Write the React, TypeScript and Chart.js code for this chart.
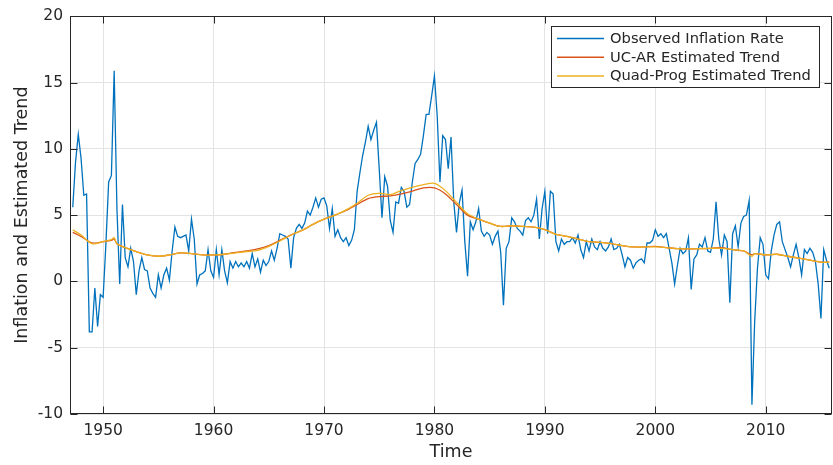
import React, { useEffect, useRef } from "react";
import { Chart, registerables } from "chart.js";

Chart.register(...registerables);

// Quarterly observed inflation, first quarter shown is 1947.25
const FIRST_QUARTER = 1947.25;
const QUARTER = 0.25;

const infl1947to1949 = [5.6, 9.0, 11.1, 9.3, 6.5, 6.6, -3.8, -3.8, -0.5, -3.4, -1.0];
const infl1950s = [
  -1.2, 2.8, 7.5, 8.0,
  15.9, 5.5, -0.2, 5.8,
  1.8, 1.1, 2.5, 1.5,
  -1.0, 0.8, 1.8, 0.9,
  0.8, -0.5, -0.9, -1.2,
  0.5, -0.5, 0.5, 1.0,
  0.1, 2.3, 4.1, 3.4,
  3.3, 3.4, 3.5, 2.3,
  4.7, 3.2, -0.2, 0.5,
  0.6, 0.8, 2.4, 0.8,
];
const infl1960s = [
  0.3, 2.4, 0.5, 2.4,
  0.8, -0.1, 1.5, 1.0,
  1.5, 1.1, 1.4, 1.1,
  1.5, 1.0, 2.1, 1.1,
  1.7, 0.7, 1.6, 1.2,
  1.5, 2.3, 1.6, 2.5,
  3.6, 3.5, 3.4, 3.2,
  1.0, 3.3, 4.0, 4.3,
  4.0, 4.4, 5.3, 5.0,
  5.6, 6.3, 5.6, 6.2,
];
const infl1970s = [
  6.3, 5.7, 4.0, 5.5,
  3.4, 3.9, 3.3, 3.0,
  3.3, 2.7, 3.1, 3.9,
  6.8, 8.2, 9.5, 10.5,
  11.7, 10.7, 11.4, 12.0,
  8.5, 4.8, 7.9, 7.2,
  4.6, 3.7, 6.0, 5.9,
  7.1, 6.8, 5.6, 5.8,
  7.5, 8.9, 9.2, 9.6,
  11.0, 12.6, 12.6, 14.0,
];
const infl1980s = [
  15.5, 12.5, 7.5, 11.0,
  10.7, 8.5, 10.9, 6.0,
  3.7, 5.9, 6.9, 3.0,
  0.4, 4.5, 3.9, 4.5,
  5.5, 3.8, 3.4, 3.7,
  3.5, 2.8, 3.4, 3.8,
  2.2, -1.8, 2.5, 3.0,
  4.8, 4.5, 4.0, 3.8,
  3.5, 4.6, 4.8, 4.5,
  5.0, 6.2, 3.2, 5.5,
];
const infl1990s = [
  6.8, 3.6, 6.8, 6.6,
  3.0, 2.3, 3.2, 2.8,
  3.0, 3.0, 3.3, 2.9,
  3.5, 2.4, 1.8, 3.0,
  2.3, 3.2, 2.6, 2.4,
  3.0, 2.5, 2.3, 2.6,
  3.2, 2.4, 2.5, 2.8,
  2.0, 1.1, 1.8, 1.6,
  1.0, 1.4, 1.6, 1.7,
  1.4, 2.9, 2.9, 3.1,
];
const infl2000s = [
  3.9, 3.4, 3.6, 3.3,
  3.6, 2.5, 1.4, -0.2,
  1.2, 2.5, 2.1, 2.3,
  3.3, -0.6, 1.7, 2.0,
  2.8, 2.6, 3.3, 2.3,
  2.2, 3.2, 6.0, 3.2,
  2.0, 3.5, 3.0, -1.6,
  3.6, 4.2, 2.6, 4.4,
  4.9, 5.0, 6.1, -9.3,
  -3.0, 1.0, 3.3, 2.8,
];
const infl2010s = [
  0.5, 0.2, 2.3, 3.5,
  4.3, 4.5, 3.0, 2.4,
  1.8, 1.1, 2.0, 2.8,
  1.8, 0.5, 2.4, 2.1,
  2.5, 2.2, 1.5, -0.2,
  -2.8, 2.4, 1.6, 1.0,
];

// Trend estimates
const trendYears = [
  1947.25, 1948, 1949, 1950, 1950.75, 1951, 1951.25, 1952, 1953, 1954, 1955, 1956, 1957, 1958, 1959,
  1960, 1961, 1962, 1963, 1964, 1965, 1966, 1967, 1968, 1969,
  1970, 1971, 1972, 1973, 1974, 1975, 1976, 1977, 1978, 1979,
  1980, 1981, 1982, 1983, 1984, 1985, 1986, 1987, 1988, 1989,
  1990, 1991, 1992, 1993, 1994, 1995, 1996, 1997, 1998, 1999,
  2000, 2001, 2002, 2003, 2004, 2005, 2006, 2007, 2008, 2008.75, 2009,
  2010, 2011, 2012, 2013, 2014, 2015, 2015.75,
];
const ucarTrend = [
  3.7, 3.4, 2.9, 3.0, 3.1, 3.2, 2.85, 2.55, 2.25, 2.0, 1.9, 2.0, 2.15, 2.1, 2.0,
  2.0, 2.05, 2.2, 2.3, 2.45, 2.7, 3.1, 3.5, 3.85, 4.3,
  4.7, 5.0, 5.35, 5.8, 6.25, 6.4, 6.45, 6.6, 6.82, 7.05,
  7.05, 6.6, 5.8, 5.0, 4.7, 4.4, 4.15, 4.2, 4.15, 4.1,
  3.9, 3.55, 3.4, 3.2, 3.0, 2.95, 2.85, 2.7, 2.6, 2.6,
  2.65, 2.55, 2.47, 2.45, 2.47, 2.5, 2.55, 2.4, 2.3, 2.0, 2.1,
  2.0, 2.05, 1.9, 1.75, 1.6, 1.45, 1.45,
];
const quadTrend = [
  3.9, 3.5, 2.85, 3.0, 3.15, 3.3, 2.85, 2.55, 2.25, 2.0, 1.9, 2.0, 2.15, 2.1, 2.0,
  2.0, 2.05, 2.15, 2.25, 2.35, 2.65, 3.05, 3.5, 3.85, 4.3,
  4.7, 5.0, 5.4, 5.9, 6.5, 6.65, 6.55, 6.85, 7.1, 7.3,
  7.4, 6.85, 5.95, 5.1, 4.7, 4.4, 4.15, 4.2, 4.15, 4.1,
  3.9, 3.55, 3.4, 3.2, 3.0, 2.95, 2.85, 2.7, 2.6, 2.6,
  2.6, 2.55, 2.47, 2.45, 2.47, 2.5, 2.5, 2.4, 2.3, 1.9, 2.1,
  2.0, 2.05, 1.9, 1.75, 1.6, 1.45, 1.45,
];

const xTicks = [1950, 1960, 1970, 1980, 1990, 2000, 2010];
const yTicks = [-10, -5, 0, 5, 10, 15, 20];
const seriesNames = ["Observed Inflation Rate", "UC-AR Estimated Trend", "Quad-Prog Estimated Trend"];
const seriesColors = ["#0072BD", "#D95319", "#EDB120"];
const xTitle = "Time";
const yTitle = "Inflation and Estimated Trend";

const FONT = "'DejaVu Sans', sans-serif";
const AXIS_COLOR = "#262626";

const matlabPlugin = {
  id: "matlabDecor",
  afterDraw(chart: any) {
    const { ctx, chartArea: a, scales } = chart;
    const xs = scales.x;
    const ys = scales.y;
    ctx.save();
    ctx.strokeStyle = AXIS_COLOR;
    ctx.lineWidth = 1;
    const L = Math.round(a.left) + 0.5;
    const R = Math.round(a.right) - 0.5;
    const T = Math.round(a.top) + 0.5;
    const B = Math.round(a.bottom) - 0.5;
    ctx.strokeRect(L, T, R - L, B - T);
    const tl = 7;
    ctx.beginPath();
    xTicks.forEach((v) => {
      const px = Math.round(xs.getPixelForValue(v)) + 0.5;
      ctx.moveTo(px, B);
      ctx.lineTo(px, B - tl);
      ctx.moveTo(px, T);
      ctx.lineTo(px, T + tl);
    });
    yTicks.forEach((v) => {
      const py = Math.round(ys.getPixelForValue(v)) + 0.5;
      ctx.moveTo(L, py);
      ctx.lineTo(L + tl, py);
      ctx.moveTo(R, py);
      ctx.lineTo(R - tl, py);
    });
    ctx.stroke();

    // Legend
    const bx = 551.5, by = 26.5, bw = 268, bh = 61;
    ctx.fillStyle = "#ffffff";
    ctx.fillRect(bx, by, bw, bh);
    ctx.strokeStyle = AXIS_COLOR;
    ctx.strokeRect(bx, by, bw, bh);
    ctx.font = `14.7px ${FONT}`;
    ctx.textBaseline = "middle";
    ctx.textAlign = "left";
    const rows = [38.5, 57.3, 76];
    seriesNames.forEach((name, i) => {
      ctx.strokeStyle = seriesColors[i];
      ctx.lineWidth = 1.4;
      ctx.beginPath();
      ctx.moveTo(557, rows[i]);
      ctx.lineTo(604, rows[i]);
      ctx.stroke();
      ctx.fillStyle = AXIS_COLOR;
      ctx.fillText(name, 610, rows[i] + 0.5);
    });

    // Axis titles
    ctx.fillStyle = AXIS_COLOR;
    ctx.font = `17.5px ${FONT}`;
    ctx.textAlign = "center";
    ctx.textBaseline = "middle";
    ctx.fillText(xTitle, (a.left + a.right) / 2, 452.5);
    ctx.save();
    ctx.translate(22, (a.top + a.bottom) / 2);
    ctx.rotate(-Math.PI / 2);
    ctx.fillText(yTitle, 0, 0);
    ctx.restore();
    ctx.restore();
  },
};

export default function App() {
  const ref = useRef<HTMLCanvasElement | null>(null);

  useEffect(() => {
    if (!ref.current) return;
    const observed = [
      ...infl1947to1949,
      ...infl1950s,
      ...infl1960s,
      ...infl1970s,
      ...infl1980s,
      ...infl1990s,
      ...infl2000s,
      ...infl2010s,
    ].map((v, i) => ({ x: FIRST_QUARTER + i * QUARTER, y: v }));
    const ucar = trendYears.map((t, i) => ({ x: t, y: ucarTrend[i] }));
    const quad = trendYears.map((t, i) => ({ x: t, y: quadTrend[i] }));

    const chart = new Chart(ref.current, {
      type: "line",
      data: {
        datasets: [
          { label: seriesNames[0], data: observed, borderColor: seriesColors[0], borderWidth: 1.3, pointRadius: 0, order: 3, tension: 0 },
          { label: seriesNames[1], data: ucar, borderColor: seriesColors[1], borderWidth: 1.3, pointRadius: 0, order: 2, tension: 0.3 },
          { label: seriesNames[2], data: quad, borderColor: seriesColors[2], borderWidth: 1.3, pointRadius: 0, order: 1, tension: 0.3 },
        ],
      },
      options: {
        animation: false,
        responsive: false,
        maintainAspectRatio: false,
        layout: { padding: { top: 13, right: 1, left: 0, bottom: 0 } },
        plugins: { legend: { display: false }, tooltip: { enabled: false }, title: { display: false } },
        scales: {
          x: {
            type: "linear",
            min: 1947,
            max: 2016,
            afterBuildTicks: (s: any) => {
              s.ticks = xTicks.map((v) => ({ value: v }));
            },
            afterFit: (s: any) => {
              s.height = 51;
            },
            ticks: {
              callback: (v: any) => String(v),
              font: { family: FONT, size: 15.5 },
              color: AXIS_COLOR,
              padding: 8,
              maxRotation: 0,
              autoSkip: false,
            },
            grid: { color: "#e3e3e3", drawTicks: false, lineWidth: 1 },
            border: { display: false },
          },
          y: {
            type: "linear",
            min: -10,
            max: 20,
            afterBuildTicks: (s: any) => {
              s.ticks = yTicks.map((v) => ({ value: v }));
            },
            afterFit: (s: any) => {
              s.width = 70;
            },
            ticks: {
              callback: (v: any) => String(v),
              font: { family: FONT, size: 15.5 },
              color: AXIS_COLOR,
              padding: 7,
              autoSkip: false,
            },
            grid: { color: "#e3e3e3", drawTicks: false, lineWidth: 1 },
            border: { display: false },
          },
        },
      },
      plugins: [matlabPlugin],
    });
    return () => chart.destroy();
  }, []);

  return (
    <div style={{ position: "fixed", left: 0, top: 0, width: 833, height: 465, background: "#ffffff" }}>
      <canvas ref={ref} width={833} height={465} style={{ width: 833, height: 465, display: "block" }} />
    </div>
  );
}
